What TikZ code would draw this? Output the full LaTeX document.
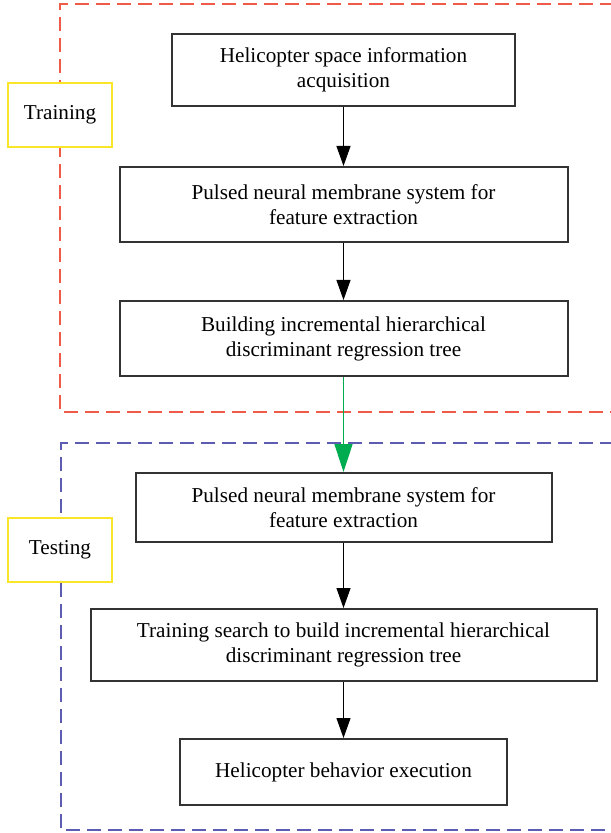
\documentclass[tikz,border=0pt]{standalone}
\usepackage{fontspec}
\setmainfont{Liberation Serif}
\usepackage{tikz}
\usetikzlibrary{positioning,arrows.meta}
\definecolor{trainred}{RGB}{238,92,72}
\definecolor{testblue}{RGB}{92,92,178}
\definecolor{tagyellow}{RGB}{250,230,40}
\definecolor{flowgreen}{RGB}{0,172,80}
\tikzstyle{stage} = [draw=black!80, line width=1pt, fill=white, rectangle,
    align=center, inner sep=0pt, font=\fontsize{10.6}{12.5}\selectfont]
\tikzstyle{phase} = [draw=tagyellow, line width=1pt, fill=white, rectangle,
    minimum width=52pt, minimum height=32pt, inner sep=0pt,
    font=\fontsize{10.6}{12.5}\selectfont]
\tikzstyle{frame} = [line width=0.8pt, dash pattern=on 7pt off 3.5pt]

\begin{document}
\begin{tikzpicture}[x=0.5pt, y=-0.5pt, node distance=30pt, >=Triangle]
	  \useasboundingbox (0,0) rectangle (610,833);
	  % dashed frames
	  \draw [frame, trainred] (614,4) -- (60,4) -- (60,412) -- (614,412);
	  \draw [frame, testblue] (614,443) -- (61,443) -- (61,830) -- (614,830);
	  \node [phase] (train) at (60,115) {Training};
	  \node [phase] (test) at (60,549.5) {Testing};
	  % training
	  \node [stage, minimum width=171.5pt, minimum height=36pt] (acquire) at (343.5,70)
	    {Helicopter space information\\acquisition};
	  \node [stage, minimum width=224pt, minimum height=37.5pt, below=29.5pt of acquire] (extract)
	    {Pulsed neural membrane system for\\feature extraction};
	  \node [stage, minimum width=224pt, minimum height=37.5pt, below=28.5pt of extract] (tree)
	    {Building incremental hierarchical\\discriminant regression tree};
	  % testing
	  \node [stage, minimum width=208pt, minimum height=34.5pt, below=47.5pt of tree] (textract)
	    {Pulsed neural membrane system for\\feature extraction};
	  \node [stage, minimum width=253pt, minimum height=36pt, below=32.5pt of textract] (search)
	    {Training search to build incremental hierarchical\\discriminant regression tree};
	  \node [stage, minimum width=163.5pt, minimum height=33pt, below=28pt of search] (execute)
	    {Helicopter behavior execution};
	  \draw [->, line width=0.5pt, >={Triangle[width=7pt,length=10pt]}] (acquire) -- (extract);
	  \draw [->, line width=0.5pt, >={Triangle[width=7pt,length=10pt]}] (extract) -- (tree);
	  \draw [->, flowgreen, line width=0.8pt, >={Triangle[width=9pt,length=14pt]}] (tree) -- (textract);
	  \draw [->, line width=0.5pt, >={Triangle[width=7pt,length=10pt]}] (textract) -- (search);
	  \draw [->, line width=0.5pt, >={Triangle[width=7pt,length=10pt]}] (search) -- (execute);
	\end{tikzpicture}
\end{document}
